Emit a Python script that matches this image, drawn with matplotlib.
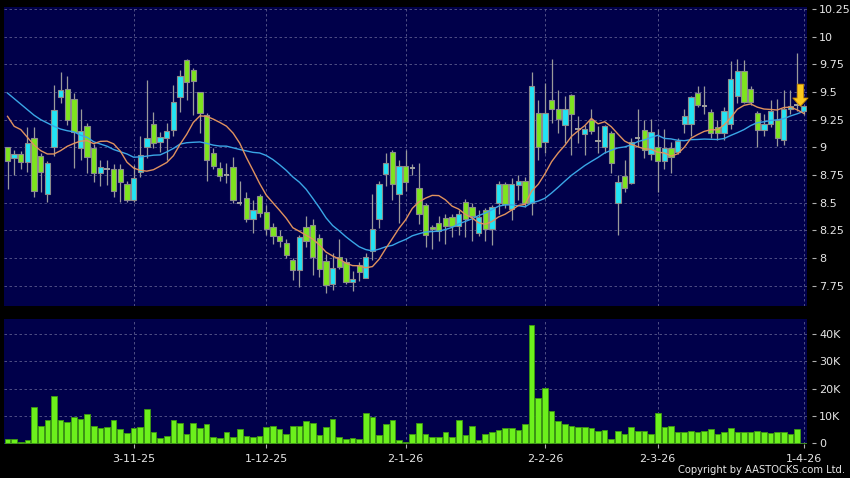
import matplotlib
matplotlib.use("Agg")
import matplotlib.pyplot as plt
import numpy as np
import pandas as pd

# ------------------ data ------------------
hk_holidays = ['2025-10-07', '2025-10-29', '2025-12-25', '2025-12-26',
               '2026-01-01', '2026-02-17', '2026-02-18', '2026-02-19']
dates = pd.bdate_range('2025-10-03', '2026-04-01', freq='C', holidays=hk_holidays)

opens = [9.00, 8.90, 8.94, 8.87, 9.08, 8.92, 8.58, 9.00, 9.45, 9.53,
         9.44, 8.99, 9.19, 8.99, 8.77, 8.80, 8.80, 8.80, 8.67, 8.52,
         8.78, 9.00, 9.21, 9.05, 9.08, 9.16, 9.45, 9.79, 9.70, 9.50,
         9.29, 8.95, 8.81, 8.75, 8.82, 8.50, 8.54, 8.35, 8.56, 8.42,
         8.28, 8.20, 8.14, 7.98, 7.89, 8.28, 8.30, 8.18, 7.97, 7.77,
         8.01, 7.96, 7.78, 7.94, 7.82, 8.06, 8.35, 8.76, 8.96, 8.58,
         8.83, 8.81, 8.63, 8.48, 8.28, 8.32, 8.36, 8.37, 8.29, 8.51,
         8.46, 8.23, 8.43, 8.26, 8.50, 8.67, 8.44, 8.66, 8.70, 8.50,
         9.31, 9.05, 9.43, 9.35, 9.20, 9.47, 9.17, 9.12, 9.25, 9.06,
         9.00, 9.13, 8.50, 8.74, 8.68, 9.08, 9.16, 8.94, 9.00, 8.88,
         8.99, 8.96, 9.21, 9.21, 9.49, 9.37, 9.32, 9.18, 9.13, 9.21,
         9.46, 9.69, 9.53, 9.31, 9.16, 9.21, 9.25, 9.07, 9.35, 9.38,
         9.33]
highs = [9.00, 8.98, 8.97, 9.18, 9.18, 8.95, 8.88, 9.56, 9.68, 9.64,
         9.49, 9.35, 9.22, 9.03, 8.89, 8.89, 8.85, 8.85, 8.70, 8.84,
         9.10, 9.61, 9.32, 9.14, 9.22, 9.56, 9.70, 9.80, 9.72, 9.50,
         9.31, 8.99, 8.87, 8.86, 8.91, 8.70, 8.60, 8.52, 8.58, 8.48,
         8.32, 8.25, 8.17, 8.00, 8.21, 8.38, 8.35, 8.22, 8.04, 8.05,
         8.17, 8.00, 7.88, 7.96, 8.05, 8.58, 8.70, 8.95, 8.98, 8.89,
         8.98, 8.85, 8.86, 8.50, 8.30, 8.38, 8.40, 8.40, 8.43, 8.53,
         8.50, 8.43, 8.45, 8.48, 8.70, 8.69, 8.72, 8.75, 8.73, 9.68,
         9.43, 9.58, 9.80, 9.52, 9.46, 9.48, 9.28, 9.20, 9.35, 9.19,
         9.20, 9.15, 8.75, 8.89, 9.08, 9.35, 9.25, 9.26, 9.17, 9.17,
         9.05, 9.08, 9.35, 9.46, 9.55, 9.55, 9.35, 9.25, 9.36, 9.78,
         9.80, 9.79, 9.55, 9.33, 9.30, 9.43, 9.44, 9.52, 9.52, 9.85,
         9.38]
lows = [8.62, 8.75, 8.80, 8.78, 8.55, 8.60, 8.51, 8.92, 9.40, 9.20,
        8.81, 8.89, 8.77, 8.69, 8.65, 8.66, 8.55, 8.51, 8.51, 8.51,
        8.73, 8.90, 8.99, 8.96, 8.89, 9.10, 9.32, 9.43, 9.29, 9.13,
        8.70, 8.80, 8.70, 8.68, 8.50, 8.48, 8.33, 8.23, 8.37, 8.21,
        8.13, 8.10, 8.00, 7.80, 7.74, 8.10, 7.85, 7.83, 7.68, 7.71,
        7.90, 7.77, 7.70, 7.79, 7.82, 7.98, 8.27, 8.65, 8.52, 8.32,
        8.61, 8.75, 8.31, 8.10, 8.08, 8.15, 8.13, 8.19, 8.21, 8.19,
        8.15, 8.20, 8.15, 8.12, 8.40, 8.45, 8.34, 8.52, 8.46, 8.39,
        8.89, 8.95, 9.22, 9.13, 9.04, 8.93, 9.04, 8.93, 9.12, 8.95,
        8.95, 8.77, 8.21, 8.60, 8.67, 9.00, 8.90, 8.89, 8.60, 8.80,
        8.77, 8.94, 9.13, 9.10, 9.36, 9.30, 9.08, 9.07, 9.07, 9.17,
        9.40, 9.40, 9.38, 9.00, 9.10, 9.18, 9.01, 9.02, 9.30, 9.33,
        9.29]
closes = [8.88, 8.94, 8.87, 9.04, 8.61, 8.78, 8.86, 9.34, 9.52, 9.25,
          9.14, 9.15, 8.91, 8.77, 8.82, 8.80, 8.61, 8.69, 8.52, 8.72,
          8.93, 9.08, 9.04, 9.09, 9.15, 9.41, 9.64, 9.59, 9.60, 9.31,
          8.89, 8.83, 8.74, 8.75, 8.52, 8.50, 8.35, 8.43, 8.41, 8.26,
          8.20, 8.15, 8.03, 7.89, 8.19, 8.15, 8.01, 7.90, 7.76, 7.91,
          7.92, 7.78, 7.81, 7.87, 8.01, 8.26, 8.67, 8.86, 8.67, 8.83,
          8.69, 8.81, 8.40, 8.21, 8.26, 8.24, 8.29, 8.29, 8.40, 8.35,
          8.38, 8.37, 8.26, 8.46, 8.67, 8.49, 8.67, 8.70, 8.50, 9.55,
          9.00, 9.31, 9.35, 9.26, 9.35, 9.30, 9.17, 9.17, 9.15, 9.06,
          9.19, 8.86, 8.69, 8.63, 9.05, 9.08, 8.98, 9.14, 8.88, 8.99,
          8.91, 9.06, 9.28, 9.45, 9.38, 9.37, 9.13, 9.13, 9.33, 9.62,
          9.69, 9.41, 9.41, 9.16, 9.21, 9.33, 9.08, 9.35, 9.37, 9.38,
          9.37]
volume_k = [1.7, 1.7, 0.4, 1.3, 13.2, 6.3, 8.4, 17.3, 8.4, 7.9,
            9.8, 8.9, 10.7, 6.2, 5.6, 6.1, 8.7, 5.4, 3.7, 5.5,
            6.1, 12.6, 4.3, 2.1, 2.6, 8.4, 7.4, 3.4, 7.6, 5.7,
            7.0, 2.3, 1.8, 4.0, 2.2, 5.4, 2.8, 2.3, 2.6, 5.9,
            6.5, 5.4, 3.3, 6.3, 6.3, 8.2, 7.4, 3.2, 6.0, 9.0,
            2.4, 1.6, 2.0, 1.6, 11.1, 9.5, 3.2, 7.2, 8.5, 1.2,
            0.3, 3.5, 7.4, 3.4, 2.3, 2.3, 4.3, 2.4, 8.4, 2.9,
            6.2, 1.2, 3.3, 4.3, 5.0, 5.5, 5.7, 4.8, 7.2, 43.3,
            16.5, 20.2, 12.0, 8.0, 7.0, 6.5, 6.0, 6.0, 5.5, 4.5,
            5.0, 1.5, 4.5, 3.5, 6.0, 4.5, 4.5, 3.5, 11.1, 6.0,
            6.2, 4.0, 4.1, 4.6, 4.1, 4.6, 5.2, 3.3, 4.0, 5.5,
            4.3, 4.3, 4.1, 4.4, 4.1, 3.8, 4.1, 4.0, 3.4, 5.4,
            0.0]
# first values of the moving averages (need history before the window)
ma10_head = [9.28, 9.19, 9.16, 9.09, 9.02, 8.97, 8.94, 8.94, 8.97]
ma20_head = [9.49, 9.44, 9.39, 9.34, 9.29, 9.25, 9.22, 9.19, 9.165, 9.15,
             9.14, 9.11, 9.09, 9.05, 9.03, 9.01, 8.98, 8.96, 8.94]

tick_dates = ['2025-11-03', '2025-12-01', '2026-01-02', '2026-02-02', '2026-03-02', '2026-04-01']
tick_labels = ['3-11-25', '1-12-25', '2-1-26', '2-2-26', '2-3-26', '1-4-26']
price_ticks = [7.75, 8, 8.25, 8.5, 8.75, 9, 9.25, 9.5, 9.75, 10, 10.25]
price_labels = ['7.75', '8', '8.25', '8.5', '8.75', '9', '9.25', '9.5', '9.75', '10', '10.25']
vol_ticks = [0, 10, 20, 30, 40]
vol_labels = ['0', '10K', '20K', '30K', '40K']

# ------------------ prep ------------------
o = np.array(opens); h = np.array(highs); l = np.array(lows); c = np.array(closes)
x = np.arange(len(c))
ma10 = pd.Series(c).rolling(10).mean().to_numpy()
ma10[:len(ma10_head)] = ma10_head
ma20 = pd.Series(c).rolling(20).mean().to_numpy()
ma20[:len(ma20_head)] = ma20_head
tick_pos = [dates.get_loc(pd.Timestamp(d)) for d in tick_dates]

bg = '#00004a'
grid_col = '#5c5c8e'
up_col = '#22e4f4'
dn_col = '#7ee41e'
edge_col = '#8c8c8c'
txt_col = '#e6e6e6'

fig = plt.figure(figsize=(8.5, 4.78), dpi=100, facecolor='black')
ax = fig.add_axes([4/850, 1-306/478, 802.7/850, 299.3/478], facecolor=bg)
axv = fig.add_axes([4/850, 1-444/478, 802.7/850, 124.7/478], facecolor=bg)

# ------------------ price pane ------------------
up = c > o
dn = c < o
flat = c == o
ax.vlines(x, l, h, color='#9a9a9a', lw=0.9, zorder=2)
ax.bar(x[up], (c - o)[up], bottom=o[up], width=0.8, color=up_col,
       edgecolor=edge_col, linewidth=0.8, zorder=3)
ax.bar(x[dn], (o - c)[dn], bottom=c[dn], width=0.8, color=dn_col,
       edgecolor=edge_col, linewidth=0.8, zorder=3)
ax.hlines(c[flat], x[flat] - 0.4, x[flat] + 0.4, color='#a0a0a0', lw=1.4, zorder=3)
ax.plot(x, ma20, color='#3aa6e6', lw=1.0, zorder=4)
ax.plot(x, ma10, color='#e0925e', lw=1.0, zorder=4)

# last price marker arrow
ax.annotate('', xy=(119.5, 9.37), xytext=(119.5, 9.57),
            arrowprops=dict(facecolor='#f9c81c', edgecolor='#c98a00', lw=0.6,
                            width=4.5, headwidth=11, headlength=6), zorder=6)

ax.set_xlim(-0.53, 120.45)
ax.set_ylim(7.567, 10.27)
ax.set_yticks(price_ticks)
ax.set_yticklabels(price_labels)
ax.set_xticks(tick_pos)
ax.tick_params(axis='x', length=0, labelbottom=False)

# ------------------ volume pane ------------------
axv.bar(x, volume_k, width=0.85, color='#6cf01c', edgecolor='#3e9a10', linewidth=0.6, zorder=3)
axv.set_xlim(-0.53, 120.45)
axv.set_ylim(-0.25, 45.4)
axv.set_yticks(vol_ticks)
axv.set_yticklabels(vol_labels)
axv.set_xticks(tick_pos)
axv.set_xticklabels(tick_labels)

for a in (ax, axv):
    a.grid(True, color=grid_col, lw=0.6, linestyle=(0, (3, 3)), zorder=1)
    a.set_axisbelow(True)
    for s in a.spines.values():
        s.set_visible(False)
    a.yaxis.tick_right()
    a.tick_params(axis='y', colors='#b0b0b0', labelcolor=txt_col, labelsize=8,
                  length=3, width=0.8, pad=2, direction='out')
    a.spines['right'].set_position(('outward', 4))

axv.tick_params(axis='x', colors='#b0b0b0', labelcolor=txt_col, labelsize=8,
                length=3, width=0.8, pad=4)

fig.text(845/850, 1-470/478, 'Copyright by AASTOCKS.com Ltd.', color=txt_col,
         fontsize=7.2, ha='right', va='center')

fig.savefig('out.png', dpi=100, facecolor='black')
